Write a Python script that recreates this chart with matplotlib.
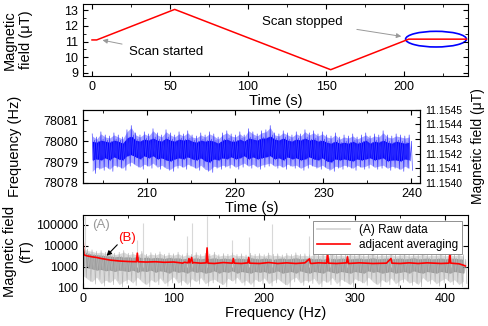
import numpy as np
import matplotlib
matplotlib.use('Agg')
import matplotlib.pyplot as plt
from matplotlib.ticker import MultipleLocator, FixedLocator, FuncFormatter, LogLocator, NullFormatter
from matplotlib.patches import Ellipse
from matplotlib.lines import Line2D

plt.rcParams['font.family'] = ['Liberation Sans', 'DejaVu Sans']

# ---- panel 1: field scan ----
scan_t = [0, 3, 53, 153, 203, 240]
scan_b = [11.1, 11.1, 13.05, 9.2, 11.15, 11.15]

# ---- panel 2: frequency noise (envelopes, offset from 78079 Hz) ----
freq_base = 78079.0
light_hi = [1.35, 1.20, 1.45, 1.30, 1.25, 1.40, 1.30, 1.20, 1.55, 1.75,
            1.40, 1.30, 1.45, 1.35, 1.60, 1.40, 1.30, 1.55, 1.40, 1.30,
            1.45, 1.35, 1.50, 1.30, 1.25, 1.40, 1.30, 1.45, 1.35, 1.20,
            1.40, 1.50, 1.35, 1.30, 1.45, 1.30, 1.60, 1.45, 1.35, 1.50,
            1.55, 1.75, 1.40, 1.35, 1.50, 1.40, 1.30, 1.45, 1.35, 1.55,
            1.40, 1.50, 1.35, 1.45, 1.30, 1.25, 1.40, 1.20, 1.30, 1.25,
            1.35, 1.20, 1.30, 1.40, 1.25, 1.35, 1.30, 1.50, 1.30, 1.25,
            1.35, 1.30, 1.25, 1.30]
light_lo = [-0.55, -0.35, -0.40, -0.30, -0.45, -0.25, -0.30, -0.40, -0.20, -0.10,
            -0.25, -0.35, -0.20, -0.30, -0.15, -0.35, -0.25, -0.40, -0.45, -0.30,
            -0.25, -0.35, -0.20, -0.30, -0.40, -0.25, -0.45, -0.50, -0.30, -0.35,
            -0.25, -0.30, -0.20, -0.35, -0.25, -0.15, -0.30, -0.20, -0.35, -0.25,
            -0.20, -0.15, -0.30, -0.25, -0.35, -0.20, -0.30, -0.25, -0.40, -0.30,
            -0.20, -0.30, -0.35, -0.25, -0.40, -0.45, -0.30, -0.35, -0.25, -0.30,
            -0.40, -0.25, -0.35, -0.30, -0.20, -0.35, -0.30, -0.25, -0.40, -0.30,
            -0.35, -0.45, -0.30, -0.40]
dark_hi = [1.05, 1.00, 1.10, 1.05, 1.00, 1.10, 1.05, 0.95, 1.20, 1.30,
           1.10, 1.05, 1.15, 1.10, 1.20, 1.10, 1.05, 1.20, 1.10, 1.05,
           1.15, 1.10, 1.15, 1.05, 1.00, 1.10, 1.05, 1.10, 1.05, 0.95,
           1.10, 1.15, 1.05, 1.05, 1.15, 1.05, 1.20, 1.15, 1.10, 1.20,
           1.20, 1.30, 1.15, 1.10, 1.20, 1.10, 1.05, 1.15, 1.10, 1.20,
           1.10, 1.15, 1.05, 1.10, 1.00, 0.95, 1.05, 0.95, 1.00, 0.95,
           1.05, 0.95, 1.00, 1.10, 0.95, 1.05, 1.00, 1.10, 1.00, 0.95,
           1.05, 1.00, 0.95, 1.00]
dark_lo = [0.05, 0.10, 0.05, 0.15, 0.05, 0.20, 0.10, 0.05, 0.25, 0.30,
           0.20, 0.10, 0.25, 0.15, 0.25, 0.10, 0.15, 0.05, 0.00, 0.10,
           0.15, 0.10, 0.20, 0.10, 0.05, 0.15, 0.00, -0.05, 0.10, 0.05,
           0.15, 0.10, 0.20, 0.10, 0.15, 0.25, 0.10, 0.20, 0.10, 0.15,
           0.20, 0.25, 0.10, 0.15, 0.05, 0.20, 0.10, 0.15, 0.05, 0.10,
           0.20, 0.10, 0.05, 0.15, 0.00, -0.05, 0.10, 0.05, 0.10, 0.05,
           0.00, 0.10, 0.05, 0.10, 0.15, 0.05, 0.10, 0.15, 0.00, 0.05,
           0.05, 0.00, 0.10, 0.05]

# ---- panel 3: spectrum ----
light_top = [9000, 7000, 6500, 5500, 6000, 5000, 5500, 4500, 5000, 6000,
             4500, 5000, 4200, 5500, 4000, 4800, 4300, 5200, 4000, 4600,
             4200, 5000, 3800, 4500, 4000, 4800, 3900, 4400, 4100, 5000,
             3800, 4300, 4000, 4700, 3900, 4200, 3700, 4500, 4000, 4300,
             3800, 4600, 4000, 4200, 3700, 4400, 3900, 4700, 4000, 4200,
             3800, 4500, 4100, 4300, 3700, 4600, 4000, 4200, 3800, 4400,
             4000, 4500, 3900, 4200, 4600, 3800, 4300, 4000, 4500, 3900,
             4200, 4400, 3800, 4300, 4000, 4600, 3900, 4200, 4100, 4500,
             3900, 4300, 4000, 4400, 3800]
light_bot = [300, 200, 150, 250, 120, 180, 140, 220, 110, 160,
             200, 130, 250, 150, 110, 190, 140, 230, 120, 170,
             260, 130, 180, 110, 210, 150, 240, 120, 170, 200,
             140, 110, 220, 160, 250, 130, 180, 110, 200, 150,
             230, 120, 170, 210, 140, 105, 190, 250, 130, 180,
             160, 220, 110, 180, 140, 240, 120, 200, 150, 110,
             210, 170, 130, 250, 150, 110, 190, 140, 230, 120,
             180, 210, 130, 160, 110, 240, 150, 200, 120, 170,
             220, 140, 190, 110, 160]
dark_top = [6000, 4500, 4000, 3800, 3600, 3400, 3300, 3000, 3200, 2900,
            3000, 2800, 3100, 2700, 2900, 2600, 2800, 2700, 2500, 2800,
            2600, 2700, 2400, 2600, 2500, 2700, 2400, 2600, 2500, 2700,
            2400, 2600, 2500, 2300, 2600, 2500, 2400, 2700, 2500, 2400,
            2600, 2500, 2300, 2500, 2600, 2400, 2500, 2700, 2400, 2500,
            2600, 2400, 2500, 2300, 2600, 2500, 2400, 2600, 2500, 2400,
            2500, 2600, 2400, 2500, 2700, 2400, 2500, 2600, 2400, 2500,
            2600, 2400, 2500, 2700, 2400, 2500, 2600, 2400, 2500, 2600,
            2400, 2500, 2600, 2400, 2300]
dark_bot = [1200, 900, 800, 700, 750, 650, 700, 600, 700, 650,
            600, 700, 550, 650, 600, 700, 550, 650, 600, 500,
            650, 550, 600, 500, 650, 550, 600, 500, 550, 650,
            500, 600, 550, 650, 500, 600, 550, 500, 600, 550,
            600, 500, 550, 650, 500, 550, 600, 500, 650, 550,
            500, 600, 550, 500, 650, 550, 500, 600, 550, 500,
            600, 550, 500, 650, 550, 600, 500, 550, 600, 500,
            550, 600, 500, 650, 550, 500, 600, 550, 500, 600,
            550, 500, 600, 550, 500]
spike_f = [2, 60, 66, 115, 120, 137, 165, 183, 209, 250, 273, 292, 340, 406]
spike_h = [250000, 20000, 120000, 30000, 120000, 250000, 20000, 25000, 110000,
           30000, 46000, 20000, 15000, 30000]

red_f = [0, 0.5, 1, 2, 5, 10, 15, 20, 25, 30,
         40, 50, 59, 60, 61, 70, 80, 90, 100, 108,
         110, 112, 116, 117, 118, 120, 121, 122, 130, 136,
         137, 138, 145, 155, 165, 166, 167, 175, 182, 183,
         184, 195, 205, 215, 225, 235, 245, 250, 251, 252,
         260, 269, 270, 271, 280, 291, 292, 293, 305, 320,
         335, 340, 341, 350, 360, 370, 380, 395, 404, 405,
         406, 415, 420, 422]
red_b = [30000, 8000, 4000, 3600, 3300, 3000, 2800, 2500, 2300, 2100,
         1900, 1800, 1750, 4500, 1750, 1700, 1750, 1650, 1700, 1550,
         1500, 1650, 1550, 2500, 1550, 2800, 1500, 1600, 1500, 1550,
         8000, 1500, 1450, 1600, 1500, 2500, 1500, 1450, 1550, 2800,
         1500, 1450, 1600, 1450, 1550, 1450, 1550, 2400, 1500, 1450,
         1550, 1500, 5200, 1500, 1450, 1550, 3000, 1450, 1550, 1450,
         1500, 2500, 1500, 1450, 1550, 1450, 1550, 1450, 1500, 4600,
         1500, 1400, 1200, 1100]


def scribble(x, step, *levels):
    # visit the read envelopes in turn, a small step apart, to give a noisy trace
    xs, ys = [], []
    for i, xv in enumerate(x):
        for k, lev in enumerate(levels):
            xs.append(xv + k * step)
            ys.append(lev[i])
    return np.array(xs), np.array(ys)


fig = plt.figure(figsize=(4.88, 3.26), dpi=100)
ax1 = fig.add_axes([0.170, 0.767, 0.789, 0.221])
ax2 = fig.add_axes([0.170, 0.439, 0.691, 0.224])
ax3 = fig.add_axes([0.170, 0.117, 0.789, 0.224])

tick_kw = dict(direction='in', top=True, right=True, labelsize=9)

# panel 1
ax1.plot(scan_t, scan_b, color='red', lw=1.1)
ax1.set_xlim(-5.8, 241)
ax1.set_ylim(8.8, 13.4)
ax1.xaxis.set_major_locator(MultipleLocator(50))
ax1.xaxis.set_minor_locator(MultipleLocator(25))
ax1.yaxis.set_major_locator(MultipleLocator(1))
ax1.yaxis.set_minor_locator(MultipleLocator(0.5))
ax1.tick_params(which='both', **tick_kw)
ax1.tick_params(which='major', length=3.5)
ax1.tick_params(which='minor', length=2)
ax1.set_xlabel('Time (s)', fontsize=10.5, labelpad=1)
ax1.set_ylabel('Magnetic\nfield (\u03bcT)', fontsize=10.5)
ax1.yaxis.set_label_coords(-0.13, 0.5)
ax1.add_patch(Ellipse((220.5, 11.15), 39, 1.0, fill=False, edgecolor='blue', lw=1.2, clip_on=False))
ax1.annotate('', xy=(5, 11.12), xytext=(21, 10.8),
             arrowprops=dict(arrowstyle='-|>', color='#999999', lw=0.7, mutation_scale=7))
ax1.text(24, 10.3, 'Scan started', fontsize=9.5, va='center', ha='left')
ax1.annotate('', xy=(200, 11.3), xytext=(168, 11.8),
             arrowprops=dict(arrowstyle='-|>', color='#999999', lw=0.7, mutation_scale=7))
ax1.text(109, 12.25, 'Scan stopped', fontsize=9.5, va='center', ha='left')

# panel 2
t_noise = np.linspace(203.75, 239.75, len(light_hi))
ax2.fill_between(t_noise, freq_base + np.array(light_lo) + 0.1,
                 freq_base + np.array(light_hi) - 0.1, color='#a8a8ff', lw=0)
xs, ys = scribble(t_noise, 0.125, light_hi, dark_lo, dark_hi, light_lo)
ax2.plot(xs, freq_base + ys, color='#3a3aff', lw=0.45)
ax2.fill_between(t_noise, freq_base + np.array(dark_lo) + 0.05,
                 freq_base + np.array(dark_hi) - 0.05, color='#0000ff', lw=0)
ax2.set_xlim(202.7, 241)
ax2.set_ylim(78078, 78081.5)
ax2.ticklabel_format(axis='y', useOffset=False)
ax2.xaxis.set_major_locator(MultipleLocator(10))
ax2.xaxis.set_minor_locator(MultipleLocator(5))
ax2.yaxis.set_major_locator(MultipleLocator(1))
ax2.yaxis.set_minor_locator(MultipleLocator(0.5))
ax2.tick_params(which='both', direction='in', top=True, right=False, labelsize=9)
ax2.tick_params(which='major', length=3.5)
ax2.tick_params(which='minor', length=2)
ax2.set_xlabel('Time (s)', fontsize=10.5, labelpad=1)
ax2.set_ylabel('Frequency (Hz)', fontsize=10.5)
ax2.yaxis.set_label_coords(-0.18, 0.5)
ax2r = ax2.twinx()
ax2r.set_ylim(11.1540, 11.1545)
ax2r.yaxis.set_major_locator(MultipleLocator(0.0001))
ax2r.yaxis.set_minor_locator(MultipleLocator(0.00005))
ax2r.yaxis.set_major_formatter(FuncFormatter(lambda v, p: '%.4f' % v))
ax2r.tick_params(which='both', direction='in', labelsize=7.5)
ax2r.tick_params(which='major', length=3.5)
ax2r.tick_params(which='minor', length=2)
ax2r.set_ylabel('Magnetic field (\u03bcT)', fontsize=10)
ax2r.yaxis.set_label_coords(1.15, 0.5)

# panel 3
f_grid = np.linspace(0, 420, len(light_top))
ax3.vlines(spike_f, 1000, spike_h, color='#d8d8d8', lw=0.8)
ax3.fill_between(f_grid, np.array(light_bot) * 1.3, np.array(light_top) * 0.85,
                 color='#dadada', lw=0)
xs, ys = scribble(f_grid, 1.25, light_top, dark_bot, dark_top, light_bot)
ax3.plot(xs, ys, color='#b4b4b4', lw=0.45)
ax3.fill_between(f_grid, dark_bot, dark_top, color='#999999', lw=0)
ax3.plot(red_f, red_b, color='red', lw=1.2)
ax3.set_yscale('log')
ax3.set_xlim(0, 425)
ax3.set_ylim(100, 3e5)
ax3.xaxis.set_major_locator(MultipleLocator(100))
ax3.xaxis.set_minor_locator(MultipleLocator(50))
ax3.yaxis.set_major_locator(FixedLocator([100, 1000, 10000, 100000]))
ax3.yaxis.set_major_formatter(FuncFormatter(lambda v, p: '%d' % v))
ax3.yaxis.set_minor_locator(LogLocator(base=10, subs=np.arange(2, 10)))
ax3.yaxis.set_minor_formatter(NullFormatter())
ax3.tick_params(which='both', **tick_kw)
ax3.tick_params(which='major', length=3.5)
ax3.tick_params(which='minor', length=2)
ax3.set_xlabel('Frequency (Hz)', fontsize=10.5, labelpad=1)
ax3.set_ylabel('Magnetic field\n(fT)', fontsize=10.5)
ax3.yaxis.set_label_coords(-0.13, 0.5)
ax3.text(10, 100000, '(A)', color='#999999', fontsize=9.5, va='center')
ax3.text(39, 24000, '(B)', color='red', fontsize=9.5, va='center')
ax3.annotate('', xy=(24, 2700), xytext=(40, 14000),
             arrowprops=dict(arrowstyle='-|>', color='black', lw=0.8, mutation_scale=7))
handles = [Line2D([], [], color='#d3d3d3', lw=1.2), Line2D([], [], color='red', lw=1.2)]
leg = ax3.legend(handles, ['(A) Raw data', 'adjacent averaging'], loc='upper right',
                 fontsize=8.5, fancybox=False, edgecolor='#808080', framealpha=1,
                 handlelength=2.8, borderaxespad=0.5, borderpad=0.3, labelspacing=0.2)
leg.get_frame().set_linewidth(0.6)

fig.savefig('out.png', dpi=100)
